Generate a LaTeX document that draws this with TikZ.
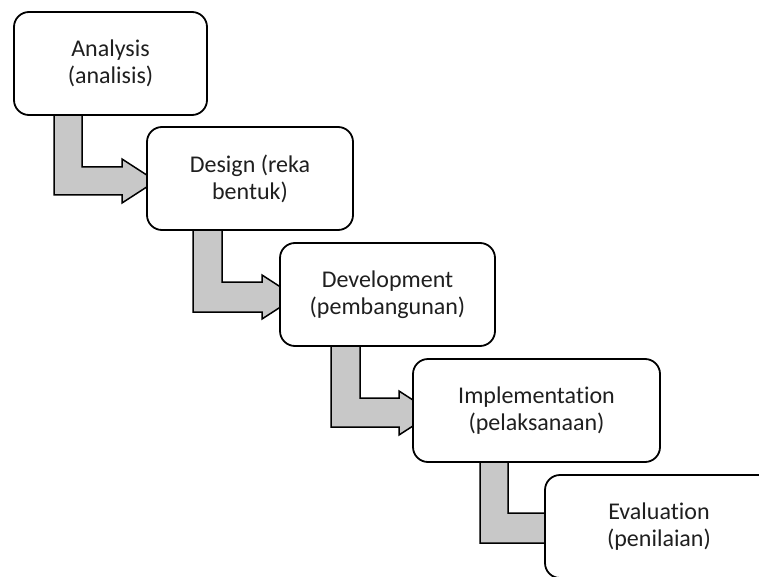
\documentclass[tikz,border=0pt]{standalone}
\usepackage{fontspec}
\setmainfont[RawFeature={-liga;-dlig;-clig}]{Carlito}
\begin{document}
\begin{tikzpicture}[x=1pt,y=-1pt,
  stage/.style={draw=black, line width=1.8pt, fill=white, rounded corners=15pt,
    align=center, inner sep=0pt, text=black!88,
    font=\fontsize{24}{27}\selectfont, minimum height=103pt},
  bent/.style={draw=black, line width=1.5pt, fill=arrowgray, line join=miter}]
\definecolor{arrowgray}{RGB}{200,200,200}
\useasboundingbox (0,0) rectangle (759,577);
\clip (0,0) rectangle (759,577);
% bent arrows (drawn first, under the boxes)
\draw[bent] (54,100) -- (54,195) -- (122,195) -- (122,203) -- (156,181) -- (122,159) -- (122,167) -- (82,167) -- (82,100) -- cycle;
\draw[bent] (193,215) -- (193,312) -- (262,312) -- (262,319) -- (296,297) -- (262,275) -- (262,282) -- (222,282) -- (222,215) -- cycle;
\draw[bent] (331,330) -- (331,427) -- (399,427) -- (399,435) -- (433,413) -- (399,391) -- (399,398) -- (360,398) -- (360,330) -- cycle;
\draw[bent] (480,445) -- (480,543) -- (555,543) -- (555,551) -- (589,528) -- (555,505) -- (555,513) -- (508,513) -- (508,445) -- cycle;
% stages
\node[stage, minimum width=193pt] (a1) at (110.5,63.5) {Analysis\\(analisis)};
\node[stage, minimum width=206pt] (a2) at (250,178.5) {Design (reka\\bentuk)};
\node[stage, minimum width=215pt] (a3) at (387.5,294.5) {Development\\(pembangunan)};
\node[stage, minimum width=247pt] (a4) at (536.5,410.5) {Implementat\kern0pt ion\\(pelaksanaan)};
\node[stage, minimum width=228pt] (a5) at (659,526.5) {Evaluat\kern0pt ion\\(penilaian)};
\end{tikzpicture}
\end{document}
